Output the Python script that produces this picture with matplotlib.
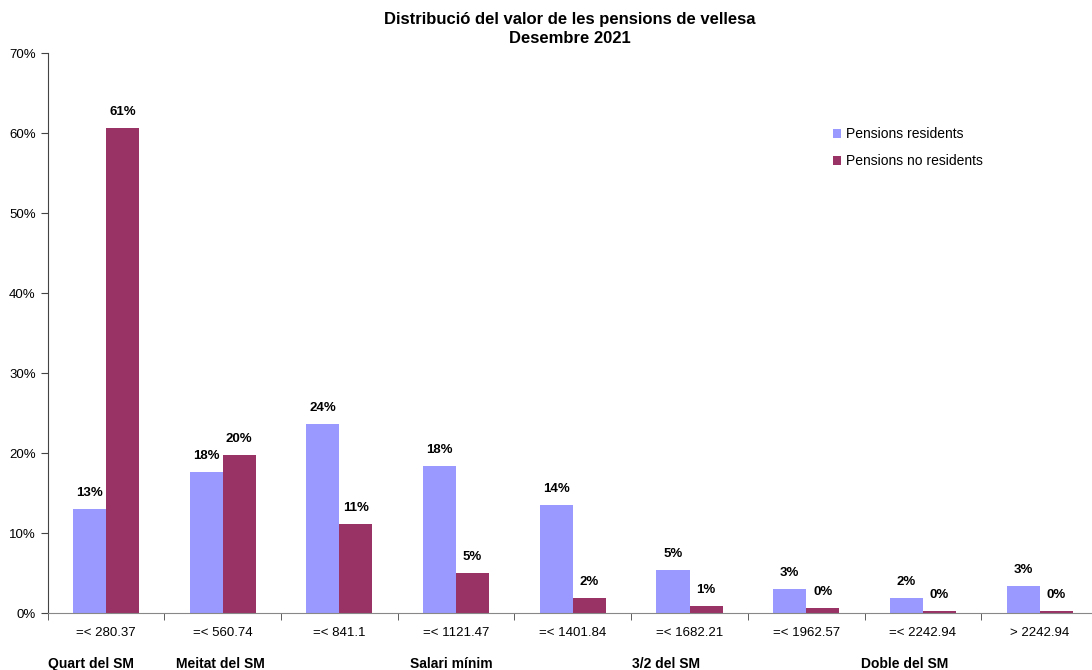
import matplotlib
matplotlib.use("Agg")
import matplotlib.pyplot as plt
import numpy as np
from matplotlib.ticker import FixedLocator, FuncFormatter
from matplotlib.transforms import blended_transform_factory

plt.rcParams['font.family'] = ['Liberation Sans', 'DejaVu Sans']

categories = ["=< 280.37", "=< 560.74", "=< 841.1", "=< 1121.47", "=< 1401.84",
              "=< 1682.21", "=< 1962.57", "=< 2242.94", "> 2242.94"]
residents = [13.0, 17.6, 23.6, 18.4, 13.5, 5.4, 3.0, 1.9, 3.4]
no_residents = [60.6, 19.8, 11.1, 5.0, 1.9, 0.9, 0.6, 0.25, 0.25]
res_labels = ["13%", "18%", "24%", "18%", "14%", "5%", "3%", "2%", "3%"]
nores_labels = ["61%", "20%", "11%", "5%", "2%", "1%", "0%", "0%", "0%"]
group_labels = ["Quart del SM", "Meitat del SM", "Salari mínim", "3/2 del SM", "Doble del SM"]
group_x = [-0.13, 0.98, 2.96, 4.80, 6.84]

title = "Distribució del valor de les pensions de vellesa\nDesembre 2021"

fig = plt.figure(figsize=(10.92, 6.70), dpi=100)
ax = fig.add_axes([47.6/1092, 1-613/670, (1098-47.6)/1092, (613-53)/670])

x = np.arange(len(categories))
w = 0.283
b1 = ax.bar(x - w/2, residents, w, color="#9999FF", label="Pensions residents", zorder=2)
b2 = ax.bar(x + w/2, no_residents, w, color="#993366", label="Pensions no residents", zorder=2)

for bars, labels in ((b1, res_labels), (b2, nores_labels)):
    for rect, lab in zip(bars, labels):
        ax.annotate(lab, (rect.get_x() + rect.get_width()/2, rect.get_height()),
                    xytext=(0, 7), textcoords="offset points", ha="center", va="bottom",
                    fontsize=9.5, fontweight="bold")

ax.set_xlim(-0.5, len(categories) - 0.5)
ax.set_ylim(0, 70)
ax.set_yticks(np.arange(0, 71, 10))
ax.yaxis.set_major_formatter(FuncFormatter(lambda v, p: f"{int(v)}%"))
ax.set_xticks(x)
ax.set_xticklabels(categories, fontsize=9.5)
ax.xaxis.set_minor_locator(FixedLocator(np.arange(-0.5, len(categories), 1.0)))
ax.tick_params(axis="x", which="major", length=0, pad=10)
ax.tick_params(axis="x", which="minor", length=5, direction="out", color="#444444")
ax.tick_params(axis="y", length=5, direction="out", labelsize=9.5, color="#444444")

for s in ["top", "right"]:
    ax.spines[s].set_visible(False)
ax.spines["left"].set_color("#444444")
ax.spines["bottom"].set_color("#888888")

trans = blended_transform_factory(ax.transData, fig.transFigure)
for gx, gl in zip(group_x, group_labels):
    fig.text(gx, 1 - 664/670, gl, transform=trans, ha="center", va="center",
             fontsize=10, fontweight="bold")

fig.text(570/1092, 1 - 29/670, title, ha="center", va="center",
         fontsize=12, fontweight="bold", linespacing=1.3)

leg = ax.legend(loc="upper left", bbox_to_anchor=(820/1092, 1 - 115/670),
                bbox_transform=fig.transFigure, frameon=False, fontsize=10,
                handlelength=0.6, handleheight=0.6, handletextpad=0.4, labelspacing=0.9)

fig.savefig("out.png", dpi=100)
